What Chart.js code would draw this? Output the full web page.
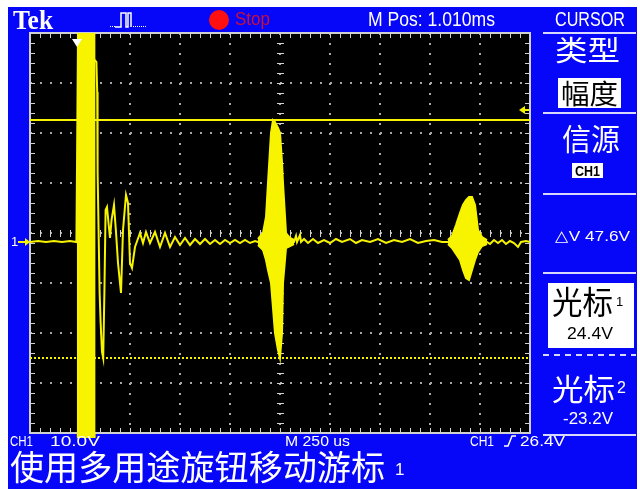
<!DOCTYPE html>
<html>
<head>
<meta charset="utf-8">
<script src="https://cdn.jsdelivr.net/npm/chart.js@4.4.1/dist/chart.umd.min.js"></script>
<style>
  html, body { margin: 0; padding: 0; background: #fff; }
  #wrap { position: relative; width: 640px; height: 489px; overflow: hidden; }
  #scope { position: absolute; left: 0; top: 0; }
  .lbl { position: absolute; white-space: nowrap; line-height: 1; transform-origin: 0 0;
         color: #fff; font-family: "Liberation Sans", Arial, sans-serif; }
  .cjk { font-family: "Noto Sans CJK SC", sans-serif; }
  .box { position: absolute; background: #fff; color: #000; text-align: center; }
</style>
</head>
<body>
<div id="wrap">
  <canvas id="scope" width="640" height="489"></canvas>

  <div class="lbl" style="left:13px;top:5px;font:bold 27px 'Liberation Serif',serif" data-w="40">Tek</div>
  <div class="lbl" style="left:235px;top:10px;font-size:18px;color:#c8103c" data-w="35">Stop</div>
  <div class="lbl" style="left:368px;top:9px;font-size:20px" data-w="127">M Pos: 1.010ms</div>
  <div class="lbl" style="left:555px;top:9px;font-size:20px" data-w="70">CURSOR</div>

  <div class="lbl cjk" style="left:555px;top:35px;font-size:28px" data-w="65">类型</div>
  <div class="box" style="left:558px;top:78px;width:63px;height:30px"></div>
  <div class="lbl cjk" style="left:561px;top:79px;font-size:27px;color:#000" data-w="57">幅度</div>
  <div class="lbl cjk" style="left:562px;top:122px;font-size:30px" data-w="58">信源</div>
  <div class="box" style="left:572px;top:163px;width:31px;height:15px"></div>
  <div class="lbl" style="left:575px;top:164px;font-size:14px;font-weight:bold;color:#000" data-w="25">CH1</div>

  <div class="lbl" style="left:555px;top:228px;font-size:15px" data-w="75">△V 47.6V</div>

  <div class="box" style="left:548px;top:283px;width:86px;height:65px"></div>
  <div class="lbl cjk" style="left:552px;top:284px;font-size:32px;color:#000" data-w="61">光标</div>
  <div class="lbl" style="left:616px;top:295px;font-size:13px;color:#000">1</div>
  <div class="lbl" style="left:567px;top:325px;font-size:17px;color:#000" data-w="46">24.4V</div>

  <div class="lbl cjk" style="left:552px;top:372px;font-size:30px" data-w="63">光标</div>
  <div class="lbl" style="left:617px;top:380px;font-size:16px">2</div>
  <div class="lbl" style="left:563px;top:410px;font-size:17px" data-w="50">-23.2V</div>

  <div class="lbl" style="left:11px;top:235px;font-size:13px">1</div>

  <div class="lbl" style="left:10px;top:433px;font-size:15px" data-w="23">CH1</div>
  <div class="lbl" style="left:50px;top:433px;font-size:15px" data-w="50">10.0V</div>
  <div class="lbl" style="left:285px;top:433px;font-size:15px" data-w="65">M 250 us</div>
  <div class="lbl" style="left:470px;top:433px;font-size:15px" data-w="24">CH1</div>
  <div class="lbl" style="left:520px;top:433px;font-size:15px" data-w="45">26.4V</div>
  <div class="lbl cjk" style="left:10px;top:449px;font-size:34px" data-w="375">使用多用途旋钮移动游标</div>
  <div class="lbl" style="left:395px;top:461px;font-size:17px">1</div>
</div>

<script>
// CH1 trace, 10 V/div, 250 us/div, time relative to trigger (us)
const traceTimes = [-240, -200, -160, -120, -80, -40, -8, 0, 92, 96, 98, 108, 113, 120, 126, 132, 138, 145, 152, 160,
  168, 180, 190, 200, 215, 225, 240, 250, 260, 270, 285, 310, 325, 340, 360, 385, 410, 435, 460, 485,
  510, 535, 560, 585, 610, 635, 660, 685, 710, 735, 760, 785, 810, 835, 860, 885, 900, 1000, 1080, 1090,
  1095, 1110, 1115, 1130, 1150, 1175, 1200, 1230, 1260, 1290, 1320, 1360, 1390, 1420, 1460, 1500, 1540, 1580, 1620, 1660,
  1700, 1740, 1780, 1820, 1850, 2045, 2060, 2080, 2100, 2120, 2140, 2160, 2180, 2200, 2215, 2240, 2260];
const traceVolts = [0, 0.2, 0, 0.2, 0, 0.2, 0, 40, 36, 30, 14, -10, -16, -22, -23.2, -10, 6.4, 7.0, 4.0, 0.8,
  4.5, 7.4, 2.0, -4.2, -10.2, 2.4, 9.4, 7.8, -4.2, -5.2, -1.0, 1.8, -0.2, 2.0, -0.2, 2.0, -1.0, 1.8, -1.0, 1.0,
  -0.6, 0.8, -0.6, 0.6, -0.4, 0.6, -0.4, 0.4, -0.4, 0.4, -0.2, 0.4, -0.2, 0.4, -0.2, 0.2, 0, 0, 0, 1.2,
  0, 1.4, 0, 0.6, -0.2, 0.6, -0.2, 0.4, -0.2, 0.6, 0, 0.6, -0.2, 0.4, 0, 0.6, -0.2, 0.4, 0, 0.6,
  -0.2, 0.2, 0.4, 0, 0, 0, -0.4, 0.4, -0.2, 0.4, -0.4, 0.2, -0.2, -1.0, 0, 0.2, 0];

// saturated transmit pulse (clipped off screen)
const pulseTimes = [-6, 88];
const pulseHigh = [50, 50];
const pulseLow = [-50, -50];

// first echo envelope
const echo1Times = [900, 925, 940, 950, 965, 975, 985, 1000, 1010, 1020, 1025, 1040, 1060, 1080];
const echo1High = [0.6, 1.8, 5.0, 11.8, 21.8, 24.4, 24.0, 22.8, 21.8, 16.0, 11.8, 1.8, 0.8, 0.4];
const echo1Low = [-0.6, -1.6, -3.6, -5.6, -8.2, -13.2, -18.2, -21.6, -23.2, -18.2, -8.2, -1.2, -0.8, -0.4];

// second echo envelope
const echo2Times = [1850, 1870, 1890, 1910, 1925, 1940, 1955, 1970, 1985, 2000, 2020, 2045];
const echo2High = [0.4, 1.2, 3.4, 5.8, 7.4, 8.4, 9.0, 9.0, 7.4, 2.4, 1.0, 0.4];
const echo2Low = [-0.4, -1.2, -2.4, -3.6, -5.6, -7.2, -7.6, -5.6, -3.6, -2.0, -0.8, -0.4];

const cursorVolts = [24.4, -23.2];
const triggerVolts = 26.4;
const timeRange = [-240, 2260];   // 10 divisions
const voltRange = [-38.2, 41.8];  // 8 divisions

const BLUE = '#0606f8';
const YELLOW = '#f8f400';
const GRID = '#a8a8a8';

function pts(times, vals) {
  return times.map((t, i) => ({ x: t, y: vals[i] }));
}

function line(data, fill) {
  return {
    data: data,
    borderColor: YELLOW,
    backgroundColor: YELLOW,
    borderWidth: 2,
    pointRadius: 0,
    tension: 0,
    fill: fill
  };
}

const scopeFrame = {
  id: 'scopeFrame',
  beforeDraw(chart) {
    const { ctx, chartArea: a } = chart;
    ctx.save();
    ctx.fillStyle = '#fff';
    ctx.fillRect(0, 0, chart.width, chart.height);
    ctx.fillStyle = BLUE;
    ctx.fillRect(8, 7, 629, 482);
    ctx.fillStyle = '#000';
    ctx.fillRect(a.left, a.top, a.right - a.left, a.bottom - a.top);
    ctx.restore();
  },
  beforeDatasetsDraw(chart) {
    const { ctx, chartArea: a, scales } = chart;
    const cx = (a.left + a.right) / 2, cy = (a.top + a.bottom) / 2;
    ctx.save();
    ctx.strokeStyle = '#d0d0d0';
    ctx.lineWidth = 1;
    ctx.beginPath();
    for (let x = a.left; x <= a.right; x += 10) {
      ctx.moveTo(x + 0.5, a.top); ctx.lineTo(x + 0.5, a.top + 5);
      ctx.moveTo(x + 0.5, a.bottom); ctx.lineTo(x + 0.5, a.bottom - 5);
      ctx.moveTo(x + 0.5, cy - 3); ctx.lineTo(x + 0.5, cy + 4);
    }
    for (let y = a.top; y <= a.bottom; y += 10) {
      ctx.moveTo(a.left, y + 0.5); ctx.lineTo(a.left + 5, y + 0.5);
      ctx.moveTo(a.right, y + 0.5); ctx.lineTo(a.right - 5, y + 0.5);
      ctx.moveTo(cx - 3, y + 0.5); ctx.lineTo(cx + 4, y + 0.5);
    }
    ctx.stroke();
    ctx.lineWidth = 2;
    ctx.strokeRect(a.left, a.top, a.right - a.left, a.bottom - a.top);

    // cursors
    ctx.strokeStyle = YELLOW;
    ctx.lineWidth = 2;
    const y1 = scales.y.getPixelForValue(cursorVolts[0]);
    const y2 = scales.y.getPixelForValue(cursorVolts[1]);
    ctx.beginPath();
    ctx.moveTo(a.left, y1); ctx.lineTo(a.right, y1);
    ctx.stroke();
    ctx.setLineDash([2, 2]);
    ctx.beginPath();
    ctx.moveTo(a.left, y2); ctx.lineTo(a.right, y2);
    ctx.stroke();
    ctx.restore();
  },
  afterDatasetsDraw(chart) {
    const { ctx, chartArea: a, scales } = chart;
    ctx.save();
    // the clipped pulse spills a little under the graticule
    const p0 = scales.x.getPixelForValue(pulseTimes[0]);
    const p1 = scales.x.getPixelForValue(pulseTimes[pulseTimes.length - 1]);
    ctx.fillStyle = YELLOW;
    ctx.fillRect(p0, a.bottom, p1 - p0, 5);

    // trigger position
    const tx = scales.x.getPixelForValue(0);
    ctx.fillStyle = '#fff';
    ctx.beginPath();
    ctx.moveTo(tx - 6, a.top + 6); ctx.lineTo(tx + 4, a.top + 6); ctx.lineTo(tx - 1, a.top + 14);
    ctx.closePath(); ctx.fill();
    // trigger level
    const ty = scales.y.getPixelForValue(triggerVolts);
    ctx.fillStyle = YELLOW;
    ctx.beginPath();
    ctx.moveTo(a.right - 11, ty); ctx.lineTo(a.right - 5, ty - 4); ctx.lineTo(a.right - 5, ty + 4);
    ctx.closePath(); ctx.fill();
    ctx.fillRect(a.right - 6, ty - 1, 5, 2);
    // ground marker
    const gy = scales.y.getPixelForValue(0);
    ctx.fillRect(18, gy - 1, 10, 2);
    ctx.beginPath();
    ctx.moveTo(a.left, gy); ctx.lineTo(a.left - 5, gy - 4); ctx.lineTo(a.left - 5, gy + 4);
    ctx.closePath(); ctx.fill();

    // status bar icons
    ctx.strokeStyle = '#fff';
    ctx.lineWidth = 1.5;
    ctx.beginPath();
    ctx.moveTo(115, 27); ctx.lineTo(121, 27); ctx.lineTo(121, 13); ctx.lineTo(126, 13);
    ctx.lineTo(126, 27); ctx.lineTo(128, 27); ctx.lineTo(128, 13); ctx.lineTo(131, 13); ctx.lineTo(131, 27);
    ctx.stroke();
    ctx.fillStyle = '#fff';
    for (let x = 110; x < 116; x += 2) ctx.fillRect(x, 26, 1, 1);
    for (let x = 133; x < 146; x += 2) ctx.fillRect(x, 26, 1, 1);
    ctx.fillStyle = '#ff1010';
    ctx.beginPath();
    ctx.arc(219, 20, 10, 0, Math.PI * 2);
    ctx.fill();

    // menu separators
    ctx.strokeStyle = '#d8d8ff';
    ctx.lineWidth = 2;
    ctx.beginPath();
    [33, 113, 194, 273, 435].forEach(y => { ctx.moveTo(543, y); ctx.lineTo(636, y); });
    ctx.stroke();
    ctx.setLineDash([6, 5]);
    ctx.beginPath();
    ctx.moveTo(543, 355); ctx.lineTo(636, 355);
    ctx.stroke();
    ctx.setLineDash([]);

    // rising edge symbol
    ctx.strokeStyle = '#fff';
    ctx.lineWidth = 1.5;
    ctx.beginPath();
    ctx.moveTo(504, 446); ctx.lineTo(508, 446); ctx.lineTo(512, 436); ctx.lineTo(516, 436);
    ctx.stroke();
    ctx.restore();
  }
};

new Chart(document.getElementById('scope'), {
  type: 'line',
  data: {
    datasets: [
      line(pts(traceTimes, traceVolts), false),
      line(pts(pulseTimes, pulseHigh), '+1'),
      line(pts(pulseTimes, pulseLow), false),
      line(pts(echo1Times, echo1High), '+1'),
      line(pts(echo1Times, echo1Low), false),
      line(pts(echo2Times, echo2High), '+1'),
      line(pts(echo2Times, echo2Low), false)
    ]
  },
  options: {
    responsive: false,
    devicePixelRatio: 1,
    animation: false,
    events: [],
    layout: { padding: { left: 30, top: 33, right: 110, bottom: 56 } },
    plugins: { legend: { display: false }, tooltip: { enabled: false } },
    scales: {
      x: {
        type: 'linear',
        min: timeRange[0],
        max: timeRange[1],
        afterBuildTicks: s => { s.ticks = Array.from({ length: 11 }, (_, i) => ({ value: timeRange[0] + i * 250 })); },
        ticks: { display: false },
        grid: { drawTicks: false, lineWidth: 2, color: c => (c.index === 0 || c.index === 10) ? 'transparent' : GRID },
        border: { display: false, dash: [2, 8] }
      },
      y: {
        type: 'linear',
        min: voltRange[0],
        max: voltRange[1],
        afterBuildTicks: s => { s.ticks = Array.from({ length: 9 }, (_, i) => ({ value: voltRange[0] + i * 10 })); },
        ticks: { display: false },
        grid: { drawTicks: false, lineWidth: 2, color: c => (c.index === 0 || c.index === 8) ? 'transparent' : GRID },
        border: { display: false, dash: [2, 8] }
      }
    }
  },
  plugins: [scopeFrame]
});

document.querySelectorAll('[data-w]').forEach(el => {
  const w = el.getBoundingClientRect().width;
  el.style.transform = 'scaleX(' + (el.dataset.w / w) + ')';
});
</script>
</body>
</html>
